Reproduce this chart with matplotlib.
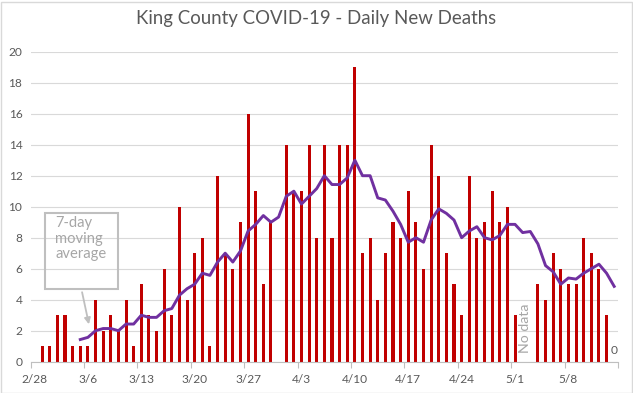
import numpy as np
import pandas as pd
import matplotlib
matplotlib.use('Agg')
import matplotlib.pyplot as plt
from matplotlib.patches import Rectangle, FancyArrowPatch

# Daily new deaths, 2/28 - 5/14 (NaN = no report)
nan = np.nan
dates = pd.date_range('2020-02-28', '2020-05-14')
deaths = [0, 1, 1, 3, 3, 1, 1, 1, 4, 2, 3, 2, 4, 1, 5, 3, 2, 6, 3, 10, 4, 7,
          8, 1, 12, 7, 6, 9, 16, 11, 5, 9, nan, 14, 11, 11, 14, 8, 14, 8, 14,
          14, 19, 7, 8, 4, 7, 9, 8, 11, 9, 6, 14, 12, 7, 5, 3, 12, 8, 9, 11,
          9, 10, 3, nan, nan, 5, 4, 7, 6, 5, 5, 8, 7, 6, 3, 0]
# 7-day moving average as plotted (starts 3/5)
moving_avg = [nan] * 6 + [1.43, 1.57, 2.0, 2.14, 2.14, 2.0, 2.43, 2.43, 3.0,
              2.86, 2.86, 3.29, 3.43, 4.29, 4.71, 5.0, 5.71, 5.57, 6.43, 7.0,
              6.43, 7.14, 8.43, 8.86, 9.43, 9.0, 9.33, 10.67, 11.0, 10.17,
              10.67, 11.17, 12.0, 11.43, 11.43, 11.86, 13.0, 12.0, 12.0, 10.57,
              10.43, 9.71, 8.86, 7.71, 8.0, 7.71, 9.14, 9.86, 9.57, 9.14, 8.0,
              8.43, 8.71, 8.0, 7.86, 8.14, 8.86, 8.86, 8.33, 8.4, 7.6, 6.2,
              5.8, 5.0, 5.4, 5.33, 5.71, 6.0, 6.29, 5.71, 4.86]
y_ticks = list(range(0, 21, 2))

W, H = 633, 393
plt.rcParams['font.family'] = ['Lato', 'DejaVu Sans']
grey_txt = '#595959'
grey_lt = '#A6A6A6'

fig = plt.figure(figsize=(W / 100, H / 100), dpi=100)
ax = fig.add_axes([30.7 / W, 1 - 361.7 / H, (618 - 30.7) / W, (361.7 - 51.7) / H])

x = np.arange(len(dates))
ax.bar(x, deaths, width=0.4, color='#C00000', zorder=2)
ax.plot(x, moving_avg, color='#7030A0', lw=2.1, zorder=3)

ax.set_xlim(-0.5, len(dates) - 0.5)
ax.set_ylim(0, 20)
ax.set_yticks(y_ticks)
ax.grid(axis='y', color='#D9D9D9', lw=0.8, zorder=0)
ax.set_axisbelow(True)

ax.set_xticks(x[::7])
ax.set_xticklabels([f'{d.month}/{d.day}' for d in dates[::7]])
ax.set_xticks(np.arange(-0.5, len(dates), 7), minor=True)
ax.tick_params(axis='x', which='major', length=0, pad=9, labelsize=8.6, labelcolor=grey_txt)
ax.tick_params(axis='x', which='minor', length=4, color='#BFBFBF', width=0.8)
ax.tick_params(axis='y', length=0, pad=6, labelsize=8.6, labelcolor=grey_txt)
for s in ['left', 'top', 'right']:
    ax.spines[s].set_visible(False)
ax.spines['bottom'].set_color('#BFBFBF')
ax.spines['bottom'].set_linewidth(0.8)

# data label for the last day
ax.text(x[-1], 0.35, '0', ha='center', va='bottom', fontsize=8.6, color=grey_txt)
# no-data note
ax.text(x[64] + 0.3, 0.55, 'No data', rotation=90, ha='center', va='bottom',
        fontsize=10.2, color=grey_lt)

fig.suptitle('King County COVID-19 - Daily New Deaths', y=1 - 10 / H, va='top',
             fontsize=13.4, color=grey_txt)

# callout box for the moving average line
def px(xp, yp):
    return (xp / W, 1 - yp / H)

bx0, by0 = px(44.7, 288.7)
bx1, by1 = px(118, 212.7)
fig.patches.append(Rectangle((bx0, by0), bx1 - bx0, by1 - by0, transform=fig.transFigure,
                             fill=False, ec='#BFBFBF', lw=1.5))
fig.text(*px(55, 216), '7-day\nmoving\naverage', ha='left', va='top', fontsize=10.6,
         color=grey_lt, linespacing=1.15)
fig.patches.append(FancyArrowPatch(px(81.5, 289.5), px(89.5, 327), transform=fig.transFigure,
                                   arrowstyle='-|>', mutation_scale=9, color='#BFBFBF', lw=1.3))

# chart border
fig.patches.append(Rectangle((0.5 / W, 0.5 / H), (W - 2) / W, (H - 2) / H,
                             transform=fig.transFigure, fill=False, ec='#D9D9D9', lw=1))

fig.savefig('out.png', dpi=100)
